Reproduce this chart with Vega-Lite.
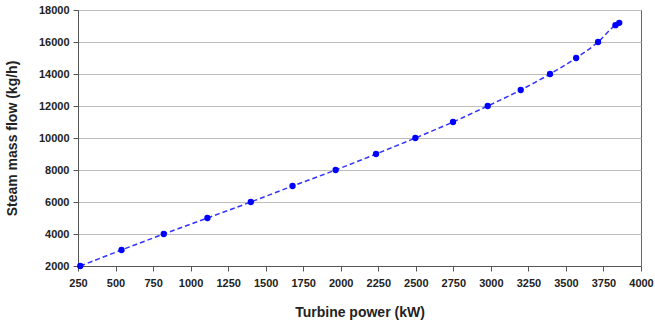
{
  "$schema": "https://vega.github.io/schema/vega-lite/v6.json",
  "width": 563,
  "height": 256,
  "padding": {"left": 5, "top": 4, "right": 10, "bottom": 5},
  "background": "white",
  "config": {
    "view": {"stroke": "#666666", "strokeWidth": 1},
    "font": "Liberation Sans",
    "axis": {
      "labelFont": "Liberation Sans",
      "labelFontWeight": "bold",
      "labelFontSize": 11,
      "labelColor": "#222222",
      "titleFont": "Liberation Sans",
      "titleFontWeight": "bold",
      "titleFontSize": 14,
      "titleColor": "#222222",
      "domainColor": "#555555",
      "tickColor": "#555555",
      "tickSize": 5
    }
  },
  "data": {
    "values": [
      {"power": 265, "flow": 2000},
      {"power": 540, "flow": 3000},
      {"power": 821, "flow": 4000},
      {"power": 1112, "flow": 5000},
      {"power": 1401, "flow": 6000},
      {"power": 1679, "flow": 7000},
      {"power": 1966, "flow": 8000},
      {"power": 2235, "flow": 9000},
      {"power": 2497, "flow": 10000},
      {"power": 2748, "flow": 11000},
      {"power": 2979, "flow": 12000},
      {"power": 3199, "flow": 13000},
      {"power": 3394, "flow": 14000},
      {"power": 3568, "flow": 15000},
      {"power": 3714, "flow": 16000},
      {"power": 3830, "flow": 17050},
      {"power": 3855, "flow": 17200}
    ]
  },
  "encoding": {
    "x": {
      "field": "power",
      "type": "quantitative",
      "title": "Turbine power (kW)",
      "scale": {"domain": [250, 4000], "nice": false, "zero": false},
      "axis": {"values": [250, 500, 750, 1000, 1250, 1500, 1750, 2000, 2250, 2500, 2750, 3000, 3250, 3500, 3750, 4000], "grid": false, "format": "d", "labelPadding": 6, "titlePadding": 17, "labelFlush": false}
    },
    "y": {
      "field": "flow",
      "type": "quantitative",
      "title": "Steam mass flow (kg/h)",
      "scale": {"domain": [2000, 18000], "nice": false, "zero": false},
      "axis": {"values": [2000, 4000, 6000, 8000, 10000, 12000, 14000, 16000, 18000], "grid": true, "gridColor": "#bdbdbd", "format": "d", "labelPadding": 4, "titlePadding": 19, "labelFlush": false}
    }
  },
  "layer": [
    {"mark": {"type": "line", "color": "#3333ff", "strokeDash": [5, 3], "strokeWidth": 1.5, "interpolate": "monotone"}},
    {"mark": {"type": "point", "filled": true, "color": "#0000ff", "size": 40, "opacity": 1}}
  ]
}
